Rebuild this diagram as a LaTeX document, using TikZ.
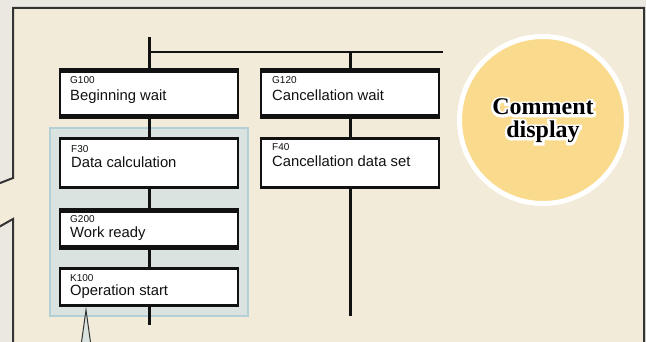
\documentclass[tikz,border=0pt]{standalone}
\usepackage{fontspec}
\setmainfont{Liberation Sans}
\newfontfamily\cmtfont{Liberation Serif}
\newfontfamily\cmthalofont[UprightFont=*,BoldFont=* Bold,BoldFeatures={FakeBold=20}]{Liberation Serif}
\usetikzlibrary{calc}
\definecolor{outerbg}{HTML}{EBE8E2}
\definecolor{panelbg}{HTML}{F3EBD9}
\definecolor{panelline}{HTML}{333333}
\definecolor{grpfill}{HTML}{DAE3DF}
\definecolor{grpline}{HTML}{B3D0D6}
\definecolor{circfill}{HTML}{FADB8D}
\definecolor{ink}{HTML}{111111}
\tikzset{
  stepbox/.style={draw=ink, fill=white, line width=2.5pt, inner sep=0pt, outer sep=0pt,
    minimum width=178pt, rectangle},
  gstepbox/.style={stepbox, path picture={
      \draw[ink, line width=6.5pt] (path picture bounding box.north west) -- (path picture bounding box.north east);
      \draw[ink, line width=6.5pt] (path picture bounding box.south west) -- (path picture bounding box.south east);}},
  wire/.style={draw=ink, line width=3pt},
  lbl/.style={anchor=base west, inner sep=0pt, text=ink, font=\fontsize{10}{12}\selectfont},
  nametxt/.style={anchor=base west, inner sep=0pt, text=ink, font=\fontsize{14.8}{17}\selectfont},
  cmt/.style={anchor=base, inner sep=0pt, font=\cmtfont\bfseries\fontsize{24}{23}\selectfont},
  cmthalo/.style={anchor=base, inner sep=0pt, text=white, font=\cmthalofont\bfseries\fontsize{24}{23}\selectfont}
}
\begin{document}
\begin{tikzpicture}[x=1pt,y=-1pt]
\useasboundingbox (0,0) rectangle (646,342);
\fill[outerbg] (0,0) rectangle (646,342);
% panel with left pointer
\fill[panelbg] (-10,187) -- (13,178) -- (13,8) -- (644,8) -- (644,360) -- (13,360) -- (13,219) -- (-10,232) -- cycle;
\draw[panelline, line width=2pt] (-10,187) -- (13,178) -- (13,8) -- (644,8) -- (644,360);
\draw[panelline, line width=2pt] (13,360) -- (13,219) -- (-10,232);
% group box
\node[draw=grpline, fill=grpfill, line width=2pt, inner sep=0pt, minimum width=198pt, minimum height=187pt] (grp) at (149,222) {};
% callout triangle
\coordinate (tip) at (86,310);
\filldraw[fill=grpfill, draw=panelline, line width=1pt] (tip) -- (79,360) -- (93,360) -- cycle;
% circle
\node[circle, fill=circfill, draw=white, line width=5pt, minimum size=167pt, inner sep=0pt] (circ) at (543,120) {};
\node[cmthalo] (haloA) at (543,115) {Comment};
\node[cmthalo] (haloB) at (543,138) {display};
\node[cmt, text=black] (cmtA) at (543,115) {Comment};
\node[cmt, text=black] (cmtB) at (543,138) {display};
% boxes
\node[gstepbox, minimum height=48pt] (g100) at (149,93.5) {};
\node[stepbox, minimum height=49pt] (f30) at (149,163) {};
\node[gstepbox, minimum height=39pt] (g200) at (149,229) {};
\node[stepbox, minimum height=37pt] (k100) at (149,287) {};
\node[gstepbox, minimum height=48pt] (g120) at (350,93.5) {};
\node[stepbox, minimum height=49pt] (f40) at (350,163) {};
% connectors
\coordinate (top) at (149,37.5);
\coordinate (hj) at (149,52);
\coordinate (hr) at (443,52);
\coordinate (hm) at (350,52);
\coordinate (endL) at (149,325);
\coordinate (endR) at (350,316);
\draw[wire] (top) -- (g100.north);
\draw[draw=ink, line width=2.6pt] (hj) -- (hr);
\draw[wire] (hm) -- (g120.north);
\draw[wire] (g100.south) -- (f30.north);
\draw[wire] (f30.south) -- (g200.north);
\draw[wire] (g200.south) -- (k100.north);
\draw[wire] (k100.south) -- (endL);
\draw[wire] (g120.south) -- (f40.north);
\draw[wire] (f40.south) -- (endR);
% texts
\node[lbl] (t1a) at (70,84) {G100};
\node[nametxt] (t1b) at (70,101) {Beginning wait};
\node[lbl] (t2a) at (71,152.5) {F30};
\node[nametxt] (t2b) at (71,168) {Data calculation};
\node[lbl] (t3a) at (70,223) {G200};
\node[nametxt] (t3b) at (70,237.5) {Work ready};
\node[lbl] (t4a) at (70,281) {K100};
\node[nametxt] (t4b) at (70,295) {Operation start};
\node[lbl] (t5a) at (272,84) {G120};
\node[nametxt] (t5b) at (272,100.5) {Cancellation wait};
\node[lbl] (t6a) at (272,150.5) {F40};
\node[nametxt] (t6b) at (272,167) {Cancellation data set};
\end{tikzpicture}
\end{document}
